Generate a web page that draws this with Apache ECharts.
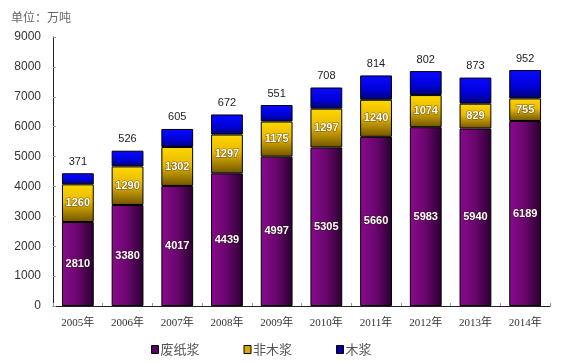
<!DOCTYPE html>
<html><head><meta charset="utf-8">
<script src="https://cdn.jsdelivr.net/npm/echarts@6/dist/echarts.min.js"></script>
<style>html,body{margin:0;padding:0;background:#fff}#c{width:584px;height:363px}</style>
</head><body><div id="c"></div>
<script>
const categories = ['2005年','2006年','2007年','2008年','2009年','2010年','2011年','2012年','2013年','2014年'];
const wastePulp = [2810, 3380, 4017, 4439, 4997, 5305, 5660, 5983, 5940, 6189];
const nonWoodPulp = [1260, 1290, 1302, 1297, 1175, 1297, 1240, 1074, 829, 755];
const woodPulp = [371, 526, 605, 672, 551, 708, 814, 802, 873, 952];
const seriesNames = ['废纸浆','非木浆','木浆'];

const chart = echarts.init(document.getElementById('c'));
const lg = (c) => ({type:'linear',x:0,y:0,x2:1,y2:0,colorStops:c});
const vg = (c) => ({type:'linear',x:0,y:0,x2:0,y2:1,colorStops:c});
const inLabel = {show:true, position:'inside', color:'#fff', fontSize:11, fontWeight:'bold',
  fontFamily:'Liberation Sans', textBorderColor:'rgba(40,20,0,0.55)', textBorderWidth:1.2};
chart.setOption({
  animation:false,
  title:{text:'单位：万吨', left:6, top:6, textStyle:{fontSize:12, fontWeight:'normal', color:'#666', fontFamily:'Noto Sans CJK SC'}},
  grid:{left:53, right:34, top:37, bottom:57},
  legend:{bottom:2, left:146, itemWidth:7, itemHeight:8, itemGap:44, icon:'rect',
    textStyle:{fontSize:13, color:'#555', fontFamily:'Noto Sans CJK SC', padding:[0,0,0,-3]},
    data:[{name:'废纸浆', itemStyle:{color:'#5a0060', borderColor:'#000', borderWidth:1}},
          {name:'非木浆', itemStyle:{color:'#d8a800', borderColor:'#000', borderWidth:1}},
          {name:'木浆', itemStyle:{color:'#0000a0', borderColor:'#000', borderWidth:1}}]},
  xAxis:{type:'category', data:categories,
    axisLine:{lineStyle:{color:'#222', width:1}},
    axisTick:{show:true, lineStyle:{color:'#999'}, length:3, inside:true},
    axisLabel:{fontSize:11, color:'#333', fontFamily:'Liberation Serif, Noto Sans CJK SC', margin:12}},
  yAxis:{type:'value', min:0, max:9000, interval:1000,
    axisLine:{show:true, lineStyle:{color:'#222', width:1}},
    axisTick:{show:true, inside:true, length:3, lineStyle:{color:'#999'}},
    splitLine:{show:false},
    axisLabel:{fontSize:12, color:'#333', fontFamily:'Liberation Sans', margin:12, formatter:(v)=>String(v)}},
  series:[
    {name:seriesNames[0], type:'bar', stack:'s', barWidth:'64%', data:wastePulp,
      itemStyle:{color:lg([{offset:0,color:'#8a0a8e'},{offset:0.5,color:'#68066c'},{offset:1,color:'#2a0030'}]), borderColor:'#000', borderWidth:1},
      label:inLabel},
    {name:seriesNames[1], type:'bar', stack:'s', data:nonWoodPulp,
      itemStyle:{color:vg([{offset:0,color:'#ffd800'},{offset:0.45,color:'#e8b800'},{offset:1,color:'#705400'}]), borderColor:'#000', borderWidth:1},
      label:inLabel},
    {name:seriesNames[2], type:'bar', stack:'s', data:woodPulp,
      itemStyle:{color:vg([{offset:0,color:'#0a0aff'},{offset:0.6,color:'#0000d8'},{offset:1,color:'#000070'}]), borderColor:'#000', borderWidth:1},
      label:{show:true, position:'top', color:'#222', fontSize:11, fontFamily:'Liberation Sans', distance:6}}
  ]
});
</script></body></html>
